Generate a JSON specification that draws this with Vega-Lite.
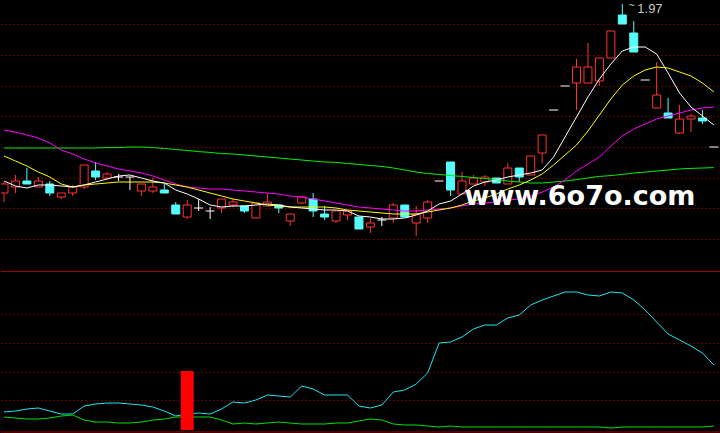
{
"$schema": "https://vega.github.io/schema/vega-lite/v6.json",
"background": "#000000",
"padding": 0,
"spacing": 0,
"config": {"view": {"stroke": null}, "scale": {"continuousPadding": 0}},
"datasets": {
"k": [
{"i":0,"o":1.4975,"c":1.52,"h":1.525,"l":1.475,"m5":1.5275,"m10":1.59,"m20":1.655,"m60":1.61,"v1":21,"v2":16},
{"i":1,"o":1.5125,"c":1.5275,"h":1.5425,"l":1.4975,"m5":1.515,"m10":1.5775,"m20":1.65,"m60":1.61,"v1":22,"v2":15},
{"i":2,"o":1.5275,"c":1.52,"h":1.56,"l":1.52,"m5":1.51,"m10":1.565,"m20":1.6425,"m60":1.61,"v1":24,"v2":14},
{"i":3,"o":1.5125,"c":1.5275,"h":1.5375,"l":1.5125,"m5":1.5175,"m10":1.55,"m20":1.635,"m60":1.61,"v1":25,"v2":14},
{"i":4,"o":1.52,"c":1.4975,"h":1.5275,"l":1.49,"m5":1.5175,"m10":1.5375,"m20":1.6225,"m60":1.61,"v1":22,"v2":15},
{"i":5,"o":1.4875,"c":1.4975,"h":1.4975,"l":1.4825,"m5":1.515,"m10":1.52,"m20":1.605,"m60":1.61,"v1":19,"v2":17},
{"i":6,"o":1.4975,"c":1.5125,"h":1.5175,"l":1.49,"m5":1.5125,"m10":1.5125,"m20":1.595,"m60":1.61,"v1":19,"v2":18},
{"i":7,"o":1.5125,"c":1.5675,"h":1.5675,"l":1.5075,"m5":1.5175,"m10":1.5175,"m20":1.5825,"m60":1.61,"v1":27,"v2":13},
{"i":8,"o":1.5525,"c":1.5375,"h":1.575,"l":1.53,"m5":1.525,"m10":1.52,"m20":1.5725,"m60":1.61,"v1":29,"v2":11},
{"i":9,"o":1.535,"c":1.545,"h":1.55,"l":1.53,"m5":1.5325,"m10":1.5225,"m20":1.565,"m60":1.611,"v1":30,"v2":11},
{"i":10,"o":1.5375,"c":1.5375,"h":1.545,"l":1.5275,"m5":1.54,"m10":1.525,"m20":1.5575,"m60":1.611,"v1":30,"v2":10},
{"i":11,"o":1.5375,"c":1.5375,"h":1.5375,"l":1.505,"m5":1.5425,"m10":1.525,"m20":1.5525,"m60":1.6125,"v1":29,"v2":10},
{"i":12,"o":1.5025,"c":1.52,"h":1.52,"l":1.49,"m5":1.535,"m10":1.525,"m20":1.5475,"m60":1.6125,"v1":28,"v2":11},
{"i":13,"o":1.5025,"c":1.5125,"h":1.535,"l":1.4975,"m5":1.5275,"m10":1.525,"m20":1.54,"m60":1.611,"v1":26,"v2":13},
{"i":14,"o":1.505,"c":1.4975,"h":1.52,"l":1.4975,"m5":1.5225,"m10":1.5225,"m20":1.53,"m60":1.609,"v1":22,"v2":14},
{"i":15,"o":1.4675,"c":1.445,"h":1.475,"l":1.445,"m5":1.505,"m10":1.5175,"m20":1.52,"m60":1.606,"v1":17,"v2":16},
{"i":16,"o":1.4375,"c":1.4675,"h":1.48,"l":1.4325,"m5":1.495,"m10":1.5125,"m20":1.5125,"m60":1.604,"v1":19,"v2":16},
{"i":17,"o":1.46,"c":1.46,"h":1.4825,"l":1.4525,"m5":1.4825,"m10":1.505,"m20":1.51,"m60":1.601,"v1":20,"v2":16},
{"i":18,"o":1.4525,"c":1.4525,"h":1.4625,"l":1.4325,"m5":1.4675,"m10":1.4975,"m20":1.5075,"m60":1.599,"v1":19,"v2":16},
{"i":19,"o":1.46,"c":1.4825,"h":1.4825,"l":1.4475,"m5":1.4625,"m10":1.49,"m20":1.5075,"m60":1.596,"v1":24,"v2":13},
{"i":20,"o":1.4675,"c":1.475,"h":1.4825,"l":1.4625,"m5":1.465,"m10":1.4825,"m20":1.505,"m60":1.595,"v1":31,"v2":9},
{"i":21,"o":1.465,"c":1.4525,"h":1.465,"l":1.4475,"m5":1.465,"m10":1.4775,"m20":1.5025,"m60":1.5925,"v1":30,"v2":10},
{"i":22,"o":1.435,"c":1.4725,"h":1.4725,"l":1.435,"m5":1.4675,"m10":1.4725,"m20":1.5,"m60":1.59,"v1":33,"v2":9},
{"i":23,"o":1.465,"c":1.475,"h":1.4975,"l":1.465,"m5":1.47,"m10":1.4675,"m20":1.4975,"m60":1.5875,"v1":38,"v2":10},
{"i":24,"o":1.4675,"c":1.46,"h":1.4675,"l":1.4475,"m5":1.4675,"m10":1.465,"m20":1.495,"m60":1.585,"v1":37,"v2":11},
{"i":25,"o":1.4275,"c":1.445,"h":1.445,"l":1.415,"m5":1.4625,"m10":1.4625,"m20":1.49,"m60":1.5825,"v1":36,"v2":10},
{"i":26,"o":1.4725,"c":1.4875,"h":1.49,"l":1.47,"m5":1.46,"m10":1.4625,"m20":1.4875,"m60":1.58,"v1":47,"v2":9},
{"i":27,"o":1.4825,"c":1.4525,"h":1.4975,"l":1.4375,"m5":1.4575,"m10":1.4625,"m20":1.4825,"m60":1.5775,"v1":44,"v2":9},
{"i":28,"o":1.445,"c":1.4375,"h":1.465,"l":1.43,"m5":1.455,"m10":1.4625,"m20":1.4775,"m60":1.575,"v1":38,"v2":9},
{"i":29,"o":1.4275,"c":1.4525,"h":1.4525,"l":1.4225,"m5":1.455,"m10":1.46,"m20":1.4725,"m60":1.574,"v1":38,"v2":10},
{"i":30,"o":1.4425,"c":1.4525,"h":1.4525,"l":1.43,"m5":1.4525,"m10":1.455,"m20":1.4675,"m60":1.571,"v1":38,"v2":10},
{"i":31,"o":1.4375,"c":1.4075,"h":1.4375,"l":1.4075,"m5":1.44,"m10":1.4525,"m20":1.4625,"m60":1.569,"v1":27,"v2":12},
{"i":32,"o":1.4125,"c":1.4225,"h":1.435,"l":1.3975,"m5":1.4375,"m10":1.45,"m20":1.46,"m60":1.566,"v1":25,"v2":14},
{"i":33,"o":1.43,"c":1.43,"h":1.4375,"l":1.415,"m5":1.4325,"m10":1.4475,"m20":1.4575,"m60":1.564,"v1":28,"v2":13},
{"i":34,"o":1.435,"c":1.4675,"h":1.4725,"l":1.4225,"m5":1.4325,"m10":1.445,"m20":1.455,"m60":1.56,"v1":41,"v2":9},
{"i":35,"o":1.4675,"c":1.4375,"h":1.4675,"l":1.4375,"m5":1.435,"m10":1.445,"m20":1.4525,"m60":1.555,"v1":43,"v2":8},
{"i":36,"o":1.4225,"c":1.445,"h":1.465,"l":1.39,"m5":1.4425,"m10":1.445,"m20":1.4525,"m60":1.55,"v1":49,"v2":8},
{"i":37,"o":1.435,"c":1.475,"h":1.48,"l":1.4225,"m5":1.4525,"m10":1.45,"m20":1.455,"m60":1.546,"v1":60,"v2":7},
{"i":38,"o":1.5275,"c":1.5275,"h":1.5275,"l":1.5275,"m5":1.47,"m10":1.455,"m20":1.4575,"m60":1.544,"v1":90,"v2":6},
{"i":39,"o":1.575,"c":1.505,"h":1.575,"l":1.49,"m5":1.4775,"m10":1.46,"m20":1.46,"m60":1.541,"v1":91,"v2":7},
{"i":40,"o":1.495,"c":1.5275,"h":1.55,"l":1.495,"m5":1.495,"m10":1.4675,"m20":1.465,"m60":1.539,"v1":96,"v2":6},
{"i":41,"o":1.52,"c":1.535,"h":1.5425,"l":1.52,"m5":1.515,"m10":1.4775,"m20":1.47,"m60":1.536,"v1":104,"v2":6},
{"i":42,"o":1.525,"c":1.5375,"h":1.5425,"l":1.515,"m5":1.525,"m10":1.485,"m20":1.4725,"m60":1.534,"v1":108,"v2":6},
{"i":43,"o":1.535,"c":1.5225,"h":1.535,"l":1.5225,"m5":1.53,"m10":1.495,"m20":1.475,"m60":1.531,"v1":108,"v2":6},
{"i":44,"o":1.52,"c":1.56,"h":1.5725,"l":1.52,"m5":1.5375,"m10":1.5075,"m20":1.48,"m60":1.5275,"v1":115,"v2":6},
{"i":45,"o":1.56,"c":1.5375,"h":1.56,"l":1.525,"m5":1.5425,"m10":1.5175,"m20":1.4825,"m60":1.525,"v1":118,"v2":6},
{"i":46,"o":1.5425,"c":1.59,"h":1.59,"l":1.5425,"m5":1.5475,"m10":1.53,"m20":1.49,"m60":1.5225,"v1":128,"v2":6},
{"i":47,"o":1.5975,"c":1.6425,"h":1.6425,"l":1.5725,"m5":1.555,"m10":1.545,"m20":1.5,"m60":1.5225,"v1":133,"v2":6},
{"i":48,"o":1.705,"c":1.705,"h":1.705,"l":1.705,"m5":1.5875,"m10":1.5675,"m20":1.5125,"m60":1.525,"v1":137,"v2":6},
{"i":49,"o":1.765,"c":1.765,"h":1.765,"l":1.765,"m5":1.6375,"m10":1.5925,"m20":1.53,"m60":1.5275,"v1":141,"v2":6},
{"i":50,"o":1.7725,"c":1.8125,"h":1.8325,"l":1.705,"m5":1.6875,"m10":1.6175,"m20":1.5525,"m60":1.531,"v1":141,"v2":6},
{"i":51,"o":1.7725,"c":1.8125,"h":1.8725,"l":1.7725,"m5":1.7375,"m10":1.6525,"m20":1.57,"m60":1.535,"v1":138,"v2":6},
{"i":52,"o":1.7775,"c":1.835,"h":1.835,"l":1.765,"m5":1.7825,"m10":1.6925,"m20":1.5875,"m60":1.539,"v1":137,"v2":6},
{"i":53,"o":1.835,"c":1.9025,"h":1.9025,"l":1.835,"m5":1.82,"m10":1.7325,"m20":1.615,"m60":1.541,"v1":141,"v2":5},
{"i":54,"o":1.9425,"c":1.92,"h":1.97,"l":1.92,"m5":1.8525,"m10":1.7675,"m20":1.64,"m60":1.544,"v1":140,"v2":6},
{"i":55,"o":1.8975,"c":1.85,"h":1.9275,"l":1.85,"m5":1.8625,"m10":1.79,"m20":1.6575,"m60":1.5475,"v1":133,"v2":6},
{"i":56,"o":1.78,"c":1.78,"h":1.78,"l":1.78,"m5":1.8625,"m10":1.805,"m20":1.67,"m60":1.55,"v1":123,"v2":6},
{"i":57,"o":1.71,"c":1.7425,"h":1.825,"l":1.71,"m5":1.845,"m10":1.8125,"m20":1.6825,"m60":1.5525,"v1":111,"v2":6},
{"i":58,"o":1.6975,"c":1.685,"h":1.735,"l":1.685,"m5":1.7975,"m10":1.81,"m20":1.69,"m60":1.555,"v1":99,"v2":6},
{"i":59,"o":1.6475,"c":1.6825,"h":1.7175,"l":1.645,"m5":1.7475,"m10":1.8,"m20":1.6975,"m60":1.5575,"v1":93,"v2":6},
{"i":60,"o":1.6825,"c":1.69,"h":1.695,"l":1.65,"m5":1.7125,"m10":1.79,"m20":1.705,"m60":1.559,"v1":87,"v2":6},
{"i":61,"o":1.685,"c":1.6775,"h":1.705,"l":1.67,"m5":1.69,"m10":1.7725,"m20":1.71,"m60":1.56,"v1":80,"v2":6},
{"i":62,"o":1.6125,"c":1.6125,"h":1.6125,"l":1.6125,"m5":1.6675,"m10":1.75,"m20":1.7125,"m60":1.561,"v1":68,"v2":7}
],
"sig": [{"i":16,"top":62,"base":3}],
"wm": [{"i":50.3,"p":1.4675,"t":"www.6o7o.com"}]
},
"vconcat": [
{
"width": 720, "height": 271,
"data": {"name": "k"},
"encoding": {"x": {"field": "i", "type": "quantitative", "scale": {"domain": [-0.262, 62.62], "nice": false, "zero": false, "padding": 0}, "axis": null}},
"layer": [
{"mark": {"type": "rule", "strokeWidth": 1, "clip": true},
 "encoding": {
  "y": {"field": "l", "type": "quantitative", "scale": {"domain": [1.3025, 1.98], "nice": false, "zero": false}, "axis": {"values": [1.9188,1.8422,1.7656,1.689,1.6124,1.5358,1.4592,1.3826], "grid": true, "labels": false, "ticks": false, "domain": false, "title": null, "gridColor": "#c00000", "gridDash": [1,3], "gridWidth": 1, "minExtent": 0, "maxExtent": 0}},
  "y2": {"field": "h"},
  "color": {"condition": [{"test": "datum.c > datum.o", "value": "#ff3232"}, {"test": "datum.c < datum.o", "value": "#54fcfc"}], "value": "#ffffff"}}},
{"transform": [{"filter": "datum.o != datum.c"}],
 "mark": {"type": "bar", "width": 8, "strokeWidth": 1, "clip": true},
 "encoding": {
  "y": {"field": "o", "type": "quantitative", "scale": {"domain": [1.3025, 1.98], "nice": false, "zero": false}, "axis": {"values": [1.9188,1.8422,1.7656,1.689,1.6124,1.5358,1.4592,1.3826], "grid": true, "labels": false, "ticks": false, "domain": false, "title": null, "gridColor": "#c00000", "gridDash": [1,3], "gridWidth": 1, "minExtent": 0, "maxExtent": 0}},
  "y2": {"field": "c"},
  "fill": {"condition": {"test": "datum.c > datum.o", "value": "#000000"}, "value": "#54fcfc"},
  "stroke": {"condition": {"test": "datum.c > datum.o", "value": "#ff3232"}, "value": "#54fcfc"}}},
{"transform": [{"filter": "datum.o == datum.c"}],
 "mark": {"type": "tick", "orient": "horizontal", "size": 9, "thickness": 1, "color": "#ffffff", "opacity": 1, "clip": true},
 "encoding": {
  "y": {"field": "o", "type": "quantitative", "scale": {"domain": [1.3025, 1.98], "nice": false, "zero": false}, "axis": {"values": [1.9188,1.8422,1.7656,1.689,1.6124,1.5358,1.4592,1.3826], "grid": true, "labels": false, "ticks": false, "domain": false, "title": null, "gridColor": "#c00000", "gridDash": [1,3], "gridWidth": 1, "minExtent": 0, "maxExtent": 0}}}},
{"mark": {"type": "line", "color": "#00f000", "strokeWidth": 1, "clip": true},
 "encoding": {"y": {"field": "m60", "type": "quantitative", "scale": {"domain": [1.3025, 1.98], "nice": false, "zero": false}, "axis": {"values": [1.9188,1.8422,1.7656,1.689,1.6124,1.5358,1.4592,1.3826], "grid": true, "labels": false, "ticks": false, "domain": false, "title": null, "gridColor": "#c00000", "gridDash": [1,3], "gridWidth": 1, "minExtent": 0, "maxExtent": 0}}}},
{"mark": {"type": "line", "color": "#ff00ff", "strokeWidth": 1, "clip": true},
 "encoding": {"y": {"field": "m20", "type": "quantitative", "scale": {"domain": [1.3025, 1.98], "nice": false, "zero": false}, "axis": {"values": [1.9188,1.8422,1.7656,1.689,1.6124,1.5358,1.4592,1.3826], "grid": true, "labels": false, "ticks": false, "domain": false, "title": null, "gridColor": "#c00000", "gridDash": [1,3], "gridWidth": 1, "minExtent": 0, "maxExtent": 0}}}},
{"mark": {"type": "line", "color": "#ffff00", "strokeWidth": 1, "clip": true},
 "encoding": {"y": {"field": "m10", "type": "quantitative", "scale": {"domain": [1.3025, 1.98], "nice": false, "zero": false}, "axis": {"values": [1.9188,1.8422,1.7656,1.689,1.6124,1.5358,1.4592,1.3826], "grid": true, "labels": false, "ticks": false, "domain": false, "title": null, "gridColor": "#c00000", "gridDash": [1,3], "gridWidth": 1, "minExtent": 0, "maxExtent": 0}}}},
{"mark": {"type": "line", "color": "#ffffff", "strokeWidth": 1, "clip": true},
 "encoding": {"y": {"field": "m5", "type": "quantitative", "scale": {"domain": [1.3025, 1.98], "nice": false, "zero": false}, "axis": {"values": [1.9188,1.8422,1.7656,1.689,1.6124,1.5358,1.4592,1.3826], "grid": true, "labels": false, "ticks": false, "domain": false, "title": null, "gridColor": "#c00000", "gridDash": [1,3], "gridWidth": 1, "minExtent": 0, "maxExtent": 0}}}},
{"transform": [{"joinaggregate": [{"op": "max", "field": "h", "as": "hm"}]}, {"filter": "datum.h == datum.hm"}],
 "mark": {"type": "text", "align": "left", "baseline": "middle", "dx": 15, "dy": 5, "font": "Liberation Sans", "fontSize": 13, "color": "#c8c8c8"},
 "encoding": {"y": {"field": "h", "type": "quantitative", "scale": {"domain": [1.3025, 1.98], "nice": false, "zero": false}, "axis": {"values": [1.9188,1.8422,1.7656,1.689,1.6124,1.5358,1.4592,1.3826], "grid": true, "labels": false, "ticks": false, "domain": false, "title": null, "gridColor": "#c00000", "gridDash": [1,3], "gridWidth": 1, "minExtent": 0, "maxExtent": 0}},
  "text": {"field": "h", "type": "quantitative", "format": ".2f"}}},
{"transform": [{"joinaggregate": [{"op": "max", "field": "h", "as": "hm"}]}, {"filter": "datum.h == datum.hm"}],
 "mark": {"type": "text", "text": "~", "align": "left", "baseline": "middle", "dx": 6, "dy": 2, "font": "Liberation Sans", "fontSize": 11, "color": "#c8c8c8"},
 "encoding": {"y": {"field": "h", "type": "quantitative", "scale": {"domain": [1.3025, 1.98], "nice": false, "zero": false}, "axis": {"values": [1.9188,1.8422,1.7656,1.689,1.6124,1.5358,1.4592,1.3826], "grid": true, "labels": false, "ticks": false, "domain": false, "title": null, "gridColor": "#c00000", "gridDash": [1,3], "gridWidth": 1, "minExtent": 0, "maxExtent": 0}}}},
{"data": {"name": "wm"},
 "mark": {"type": "text", "font": "DejaVu Sans", "fontWeight": "bold", "fontSize": 27, "color": "#ffffff", "align": "center", "baseline": "alphabetic"},
 "encoding": {
  "y": {"field": "p", "type": "quantitative", "scale": {"domain": [1.3025, 1.98], "nice": false, "zero": false}, "axis": {"values": [1.9188,1.8422,1.7656,1.689,1.6124,1.5358,1.4592,1.3826], "grid": true, "labels": false, "ticks": false, "domain": false, "title": null, "gridColor": "#c00000", "gridDash": [1,3], "gridWidth": 1, "minExtent": 0, "maxExtent": 0}},
  "text": {"field": "t", "type": "nominal"}}}
]
},
{
"width": 720, "height": 162,
"layer": [
{"data": {"name": "k"},
 "mark": {"type": "line", "color": "#1ee6f5", "strokeWidth": 1, "clip": true},
 "encoding": {
  "x": {"field": "i", "type": "quantitative", "scale": {"domain": [-0.262, 62.62], "nice": false, "zero": false, "padding": 0}, "axis": null},
  "y": {"field": "v1", "type": "quantitative", "scale": {"domain": [0, 162], "nice": false}, "axis": {"values": [33, 61, 90, 119], "grid": true, "labels": false, "ticks": false, "domain": false, "title": null, "gridColor": "#c00000", "gridDash": [1,3], "gridWidth": 1, "minExtent": 0, "maxExtent": 0}}}},
{"data": {"name": "k"},
 "mark": {"type": "line", "color": "#00e000", "strokeWidth": 1, "clip": true},
 "encoding": {
  "x": {"field": "i", "type": "quantitative", "scale": {"domain": [-0.262, 62.62], "nice": false, "zero": false, "padding": 0}, "axis": null},
  "y": {"field": "v2", "type": "quantitative", "scale": {"domain": [0, 162], "nice": false}, "axis": {"values": [33, 61, 90, 119], "grid": true, "labels": false, "ticks": false, "domain": false, "title": null, "gridColor": "#c00000", "gridDash": [1,3], "gridWidth": 1, "minExtent": 0, "maxExtent": 0}}}},
{"data": {"name": "sig"},
 "mark": {"type": "bar", "width": 13, "color": "#ff0000"},
 "encoding": {
  "x": {"field": "i", "type": "quantitative", "scale": {"domain": [-0.262, 62.62], "nice": false, "zero": false, "padding": 0}, "axis": null},
  "y": {"field": "top", "type": "quantitative", "scale": {"domain": [0, 162], "nice": false}, "axis": {"values": [33, 61, 90, 119], "grid": true, "labels": false, "ticks": false, "domain": false, "title": null, "gridColor": "#c00000", "gridDash": [1,3], "gridWidth": 1, "minExtent": 0, "maxExtent": 0}},
  "y2": {"field": "base"}}},
{"data": {"values": [{}]},
 "mark": {"type": "rule", "color": "#a00000", "strokeWidth": 1},
 "encoding": {"y": {"datum": 161.5, "type": "quantitative", "scale": {"domain": [0, 162], "nice": false}, "axis": {"values": [33, 61, 90, 119], "grid": true, "labels": false, "ticks": false, "domain": false, "title": null, "gridColor": "#c00000", "gridDash": [1,3], "gridWidth": 1, "minExtent": 0, "maxExtent": 0}}}},
{"data": {"values": [{}]},
 "mark": {"type": "rule", "color": "#a00000", "strokeWidth": 1},
 "encoding": {"y": {"datum": 1, "type": "quantitative", "scale": {"domain": [0, 162], "nice": false}, "axis": {"values": [33, 61, 90, 119], "grid": true, "labels": false, "ticks": false, "domain": false, "title": null, "gridColor": "#c00000", "gridDash": [1,3], "gridWidth": 1, "minExtent": 0, "maxExtent": 0}}}}
]
}
]
}
